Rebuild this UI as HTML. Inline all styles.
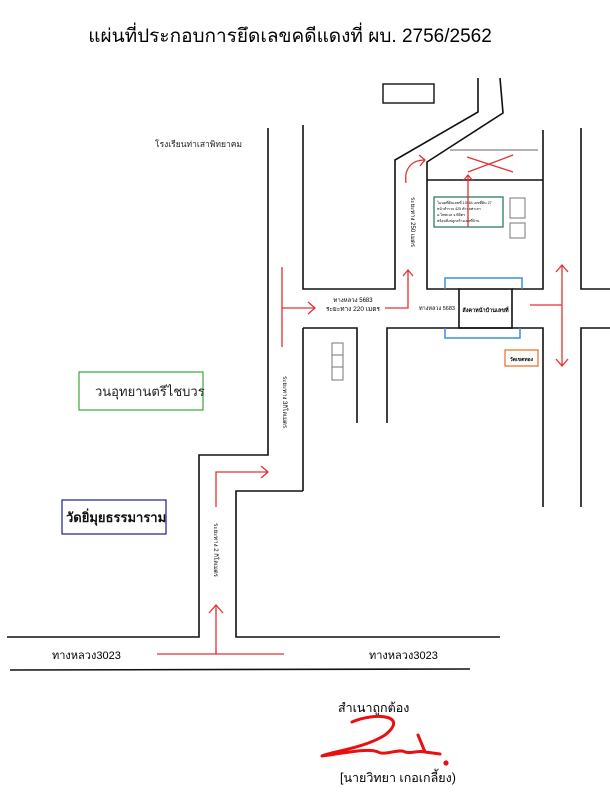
<!DOCTYPE html>
<html><head><meta charset="utf-8"><style>
body{margin:0;background:#fff}
svg{display:block}
text{font-family:"Liberation Sans","Noto Sans CJK SC",sans-serif}
</style></head><body>
<svg width="610" height="800" viewBox="0 0 610 800" xmlns="http://www.w3.org/2000/svg">
<text x="290" y="42" font-size="19" text-anchor="middle" fill="#000">แผ่นที่ประกอบการยึดเลขคดีแดงที่ ผบ. 2756/2562</text>
<g stroke="#111" stroke-width="1.6" fill="none">
<rect x="383" y="84" width="51" height="19" stroke-width="1.4"/>
<polyline points="268,128 268,455 199,455 199,637 7,637"/>
<polyline points="303,125 303,289 395,289 395,160 478,112 478,78"/>
<polyline points="500,78 503,113 427,162 427,289 459,289"/>
<line x1="427" y1="180" x2="543" y2="180"/>
<polyline points="543,130 543,289 512,289"/>
<polyline points="581,128 581,289 610,289"/>
<polyline points="303,328 357,328 357,423"/>
<line x1="303" y1="328" x2="303" y2="491"/>
<polyline points="303,491 236,491 236,637 500,637"/>
<polyline points="387,423 387,328 543,328 543,507"/>
<polyline points="610,328 581,328 581,507"/>
<rect x="459" y="289" width="53" height="39"/>
<line x1="10" y1="670" x2="470" y2="669"/>
</g>
<line x1="450" y1="150" x2="538" y2="150" stroke="#888" stroke-width="1.2"/>
<g stroke="#777" stroke-width="1" fill="none">
<rect x="332" y="343" width="11" height="12"/><rect x="332" y="355" width="11" height="12"/><rect x="332" y="367" width="11" height="13"/>
<rect x="510" y="198" width="15" height="20"/><rect x="510" y="223" width="15" height="15"/>
</g>
<polyline points="445,289 445,278 522,278 522,289" stroke="#3d8fe0" stroke-width="1.5" fill="none"/>
<polyline points="445,328 445,338 520,338 520,328" stroke="#3d8fe0" stroke-width="1.5" fill="none"/>
<rect x="434" y="197" width="69" height="30" fill="#fff" stroke="#2e7d5a" stroke-width="1.3"/>
<g font-size="3.6" fill="#000"><text x="437" y="204">โฉนดที่ดินเลขที่ 13964 เลขที่ดิน 27</text><text x="437" y="210">หน้าสำรวจ 425 ตำบลท่าเสา</text><text x="437" y="216">อ.โพทะเล จ.พิจิตร</text><text x="437" y="222">พร้อมสิ่งปลูกสร้างเลขที่บ้าน</text></g>
<rect x="79" y="372" width="124" height="38" fill="none" stroke="#3aa63a" stroke-width="1.2"/>
<text x="95" y="396" font-size="13" fill="#222">วนอุทยานตรีไชบวร</text>
<rect x="62" y="500" width="104" height="34" fill="none" stroke="#1c1c8a" stroke-width="1.2"/>
<text x="66" y="522" font-size="13" font-weight="bold" fill="#111">วัดยิ่มุยธรรมาราม</text>
<rect x="505" y="350" width="33" height="16" fill="none" stroke="#e87a2a" stroke-width="1.3"/>
<text x="521.5" y="361" font-size="5" text-anchor="middle" font-weight="bold">วัดเขตทอง</text>
<text x="485.5" y="312" font-size="5.5" text-anchor="middle" font-weight="bold">สังคาหน้าบ้านเลขที่</text>
<text x="155" y="147" font-size="8.5" fill="#222">โรงเรียนท่าเสาพิทยาคม</text>
<text x="353" y="302" font-size="6" text-anchor="middle">ทางหลวง 5683</text>
<text x="353" y="311" font-size="6.5" text-anchor="middle">ระยะทาง 220 เมตร</text>
<text x="437" y="310" font-size="5.5" text-anchor="middle">ทางหลวง 5683</text>
<text x="0" y="0" font-size="6" text-anchor="middle" transform="translate(411,222) rotate(90)">ระยะทาง 250 เมตร</text>
<text x="0" y="0" font-size="6" text-anchor="middle" transform="translate(283,402) rotate(90)">ระยะทาง 3กิโลเมตร</text>
<text x="0" y="0" font-size="6" text-anchor="middle" transform="translate(214,550) rotate(90)">ระยะทาง 2 กิโลเมตร</text>
<text x="52" y="659" font-size="11">ทางหลวง3023</text>
<text x="369" y="659" font-size="11">ทางหลวง3023</text>
<g stroke="#e53030" stroke-width="1.3" fill="none">
<line x1="282" y1="267" x2="282" y2="347"/><line x1="282" y1="308" x2="315" y2="308"/><polyline points="308,302 315,308 308,314"/>
<polyline points="385,308 408,308 408,270"/><polyline points="403,276 408,270 413,276"/>
<path d="M406,183 C404,168 412,160 425,160"/><polyline points="419,155 425,160 420,166"/>
<line x1="468" y1="227" x2="468" y2="175"/><polyline points="463,181 468,175 473,181"/>
<line x1="467" y1="157" x2="513" y2="172"/><line x1="468" y1="172" x2="513" y2="155"/>
<line x1="530" y1="305" x2="562" y2="305"/><line x1="562" y1="265" x2="562" y2="366"/>
<polyline points="556,272 562,265 568,272"/><polyline points="556,359 562,366 568,359"/>
<polyline points="216,507 216,472 268,472"/><polyline points="261,466 268,472 261,478"/>
<line x1="157" y1="654" x2="284" y2="654"/><line x1="216" y1="654" x2="216" y2="605"/><polyline points="209,613 216,605 223,613"/>
</g>
<text x="338" y="712" font-size="12.5">สำเนาถูกต้อง</text>
<path d="M352,722 C375,712 410,715 385,735 C365,748 330,752 322,756 C350,752 370,748 378,752 C385,756 400,748 405,752 C412,754 418,750 425,752 L418,735 L425,752 L440,754" stroke="#e81010" stroke-width="3" fill="none" stroke-linecap="round" stroke-linejoin="round"/>
<circle cx="446" cy="763" r="2.6" fill="#e81010"/>
<text x="340" y="782" font-size="12.5">[นายวิทยา เกอเกลี้ยง)</text>
</svg>
</body></html>
